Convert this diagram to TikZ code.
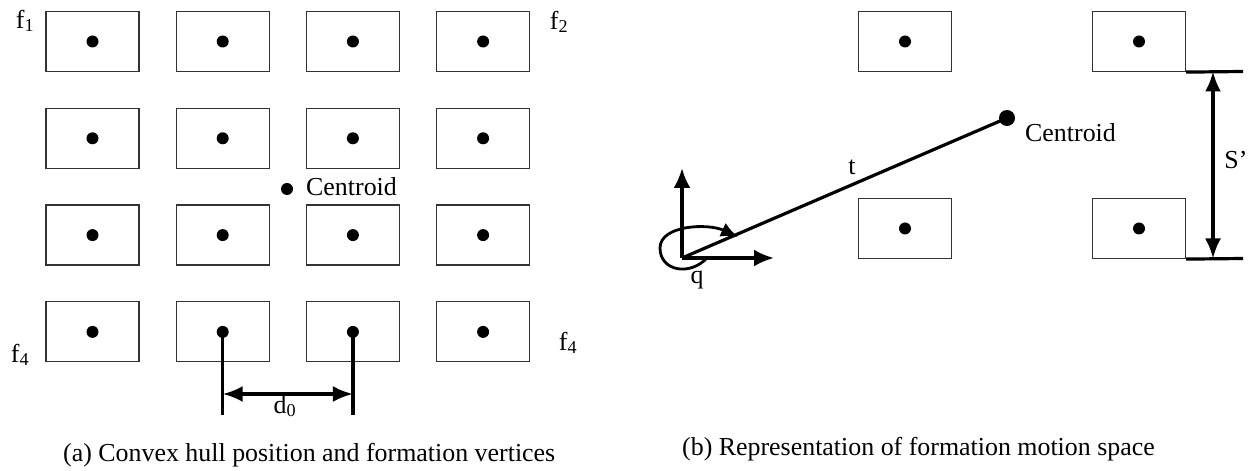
\documentclass[tikz,border=0pt]{standalone}
\usepackage{fontspec}
\setmainfont{Liberation Serif}
\usetikzlibrary{arrows.meta}
\begin{document}
\begin{tikzpicture}[x=1bp,y=-1bp,
  font=\fontsize{26}{30}\selectfont,
  cell/.style={draw=black!80,line width=1.2bp,rectangle,minimum width=93bp,minimum height=60bp,inner sep=0pt},
  dot/.style={circle,fill=black,inner sep=0pt,minimum size=12bp},
  bigdot/.style={circle,fill=black,inner sep=0pt,minimum size=16bp},
  lbl/.style={inner sep=0pt},
  heavy/.style={line width=3.2bp},
  tip/.style={-{Latex[length=20bp,width=17bp]}},
  bothtips/.style={{Latex[length=20bp,width=16bp]}-{Latex[length=20bp,width=16bp]}}]
\useasboundingbox (0,0) rectangle (1257,471);

% ---- (a) grid of 4x4 agents ----
\foreach \i in {1,...,4}{
  \foreach \j in {1,...,4}{
    \node[cell] (b\j\i) at ({92.5+130.2*(\i-1)},{41.5+96.8*(\j-1)}) {};
    \node[dot]  (d\j\i) at (b\j\i.center) {};
  }
}
\node[dot] (ca) at (287,189) {};
\node[lbl,anchor=west] (catext) at (306,187) {Centroid};

\node[lbl] (f1) at (25,21) {f\textsubscript{1}};
\node[lbl] (f2) at (559,22) {f\textsubscript{2}};
\node[lbl] (f4a) at (20,355) {f\textsubscript{4}};
\node[lbl] (f4b) at (568,343) {f\textsubscript{4}};

% spacing d0
\coordinate (ea) at (222.7,415);
\coordinate (eb) at (352.9,415);
\coordinate (ma) at (222.7,394);
\coordinate (mb) at (352.9,394);
\draw[heavy] (d42.center) -- (ea);
\draw[heavy] (d43.center) -- (eb);
\draw[heavy,bothtips] (ma) -- (mb);
\node[lbl] (d0) at (285,406) {d\textsubscript{0}};

\node[lbl,anchor=west] (capa) at (63,455) {(a) Convex hull position and formation vertices};

% ---- (b) formation motion space ----
\node[cell] (r1) at (905,41.5) {};
\node[cell] (r2) at (1139,41.5) {};
\node[cell] (r3) at (905,228.5) {};
\node[cell] (r4) at (1139,228.5) {};
\foreach \k in {1,...,4}{\node[dot] (rd\k) at (r\k.center) {};}

\node[bigdot] (cb) at (1007,118) {};
\node[lbl,anchor=west] (cbtext) at (1025,133) {Centroid};

\coordinate (o) at (682,258);
\coordinate (ox) at (774,258);
\coordinate (oy) at (682,168);
\draw[heavy,tip] (o) -- (oy);
\draw[heavy,tip] (o) -- (ox);
\draw[heavy] (o) -- (cb.center);
\node[lbl] (t) at (852,167) {t};

\coordinate (l0) at (708,257);
\coordinate (l1) at (660,248);
\coordinate (l2) at (738,237);
\draw[line width=2.8bp,-{Latex[length=17bp,width=15bp]}] (l0) .. controls (690,277) and (660,271) .. (l1)
  .. controls (660,225) and (708,223) .. (l2);
\node[lbl] (q) at (697,280) {q};

% separation S'
\coordinate (s1) at (1243,71.5);
\coordinate (s2) at (1243,258.5);
\coordinate (sa) at (1213,71.5);
\coordinate (sb) at (1213,258.5);
\draw[heavy] (r2.south east) -- (s1);
\draw[heavy] (r4.south east) -- (s2);
\draw[heavy,bothtips] (sa) -- (sb);
\node[lbl] (sp) at (1236,160) {S’};

\node[lbl,anchor=west] (capb) at (682,449) {(b) Representation of formation motion space};
\end{tikzpicture}
\end{document}
